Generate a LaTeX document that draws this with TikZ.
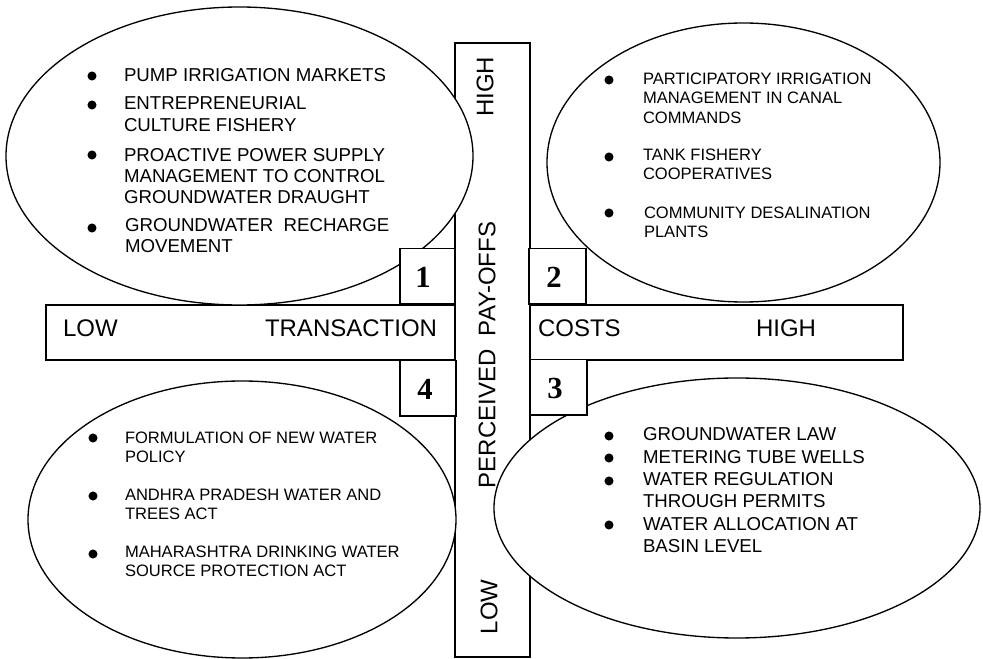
\documentclass[tikz,border=0pt]{standalone}
\usepackage{fontspec}
\setmainfont{Liberation Sans}
\newfontfamily\numfont{Liberation Serif}
\usetikzlibrary{shapes.geometric}
\begin{document}
\begin{tikzpicture}[x=0.75pt,y=-0.75pt,
  every node/.style={inner sep=0pt, outer sep=0pt},
  bar/.style={draw, fill=white, rectangle, line width=1pt},
  oval/.style={draw, fill=white, ellipse, line width=1pt},
  numbox/.style={draw, fill=white, rectangle, line width=1pt, minimum height=41.5pt},
  num/.style={font=\numfont\bfseries\fontsize{23}{23}\selectfont},
  axis/.style={font=\fontsize{18}{20}\selectfont},
  itemL/.style={font=\fontsize{14}{16}\selectfont, align=left, anchor=north west},
  itemS/.style={font=\fontsize{12.4}{14.5}\selectfont, align=left, anchor=north west},
  itemM/.style={font=\fontsize{14}{16.8}\selectfont, align=left, anchor=north west},
  dot/.style={fill=black, circle, minimum size=6.8pt}
]
\useasboundingbox (0,0) rectangle (983,659);

% bars
\node[bar, minimum width=642.75pt, minimum height=41.25pt] (hbar) at (474.5,332.5) {};
\node[bar, minimum width=56.25pt, minimum height=460.5pt] (vbar) at (492.5,350) {};

% ellipses
\node[oval, minimum width=350.25pt, minimum height=223.5pt] (eTL) at (239.5,156) {};
\node[oval, minimum width=294.75pt, minimum height=209.25pt] (eTR) at (743.5,162.5) {};
\node[oval, minimum width=321pt, minimum height=207.75pt] (eBL) at (242,519.5) {};
\node[oval, minimum width=364.5pt, minimum height=195pt] (eBR) at (737,508) {};

% numbered boxes
\node[numbox, minimum width=41.25pt] (box1) at (427.5,276.5) {};
\node[numbox, minimum width=42.75pt] (box2) at (557.5,276.5) {};
\node[numbox, minimum width=42pt] (box4) at (428,388.5) {};
\node[numbox, minimum width=42.75pt] (box3) at (558.5,387.5) {};
\node[num] (n1) at (423,277) {1};
\node[num] (n2) at (554,277) {2};
\node[num] (n4) at (425,389) {4};
\node[num] (n3) at (555,388) {3};

% horizontal axis labels
\node[axis, anchor=base west] (hlow) at (63,337) {LOW};
\node[axis, anchor=base west] (htrans) at (265,337) {TRANSACTION};
\node[axis, anchor=base west] (hcost) at (538,337) {COSTS};
\node[axis, anchor=base west] (hhigh) at (756,337) {HIGH};

% vertical axis labels
\node[axis, rotate=90] (vhigh) at (485,87) {HIGH};
\node[axis, rotate=90] (vpay) at (487,355) {PERCEIVED\ \ PAY-OFFS};
\node[axis, rotate=90] (vlow) at (489,607) {LOW};

% top-left quadrant
\node[dot] (dTL1) at (92,76) {};
\node[dot] (dTL2) at (92,105) {};
\node[dot] (dTL3) at (92,155) {};
\node[dot] (dTL4) at (92,228) {};
\node[itemL] (tTL1) at (124,68) {PUMP IRRIGATION MARKETS};
\node[itemL] (tTL2) at (124,97) {ENTREPRENEURIAL\\CULTURE FISHERY};
\node[itemL] (tTL3) at (124,148) {PROACTIVE POWER SUPPLY\\MANAGEMENT TO CONTROL\\GROUNDWATER DRAUGHT};
\node[itemL] (tTL4) at (125,218) {GROUNDWATER\ \ RECHARGE\\MOVEMENT};

% top-right quadrant
\node[dot] (dTR1) at (609,80) {};
\node[dot] (dTR2) at (609,157) {};
\node[dot] (dTR3) at (609,213) {};
\node[itemS] (tTR1) at (643,73) {PARTICIPATORY IRRIGATION\\MANAGEMENT IN CANAL\\COMMANDS};
\node[itemS] (tTR2) at (643,149) {TANK FISHERY\\COOPERATIVES};
\node[itemS] (tTR3) at (644,207) {COMMUNITY DESALINATION\\PLANTS};

% bottom-left quadrant
\node[dot] (dBL1) at (93,438) {};
\node[dot] (dBL2) at (93,496) {};
\node[dot] (dBL3) at (93,554) {};
\node[itemS] (tBL1) at (125,432) {FORMULATION OF NEW WATER\\POLICY};
\node[itemS] (tBL2) at (125,489) {ANDHRA PRADESH WATER AND\\TREES ACT};
\node[itemS] (tBL3) at (125,546) {MAHARASHTRA DRINKING WATER\\SOURCE PROTECTION ACT};

% bottom-right quadrant
\node[dot] (dBR1) at (609,436) {};
\node[dot] (dBR2) at (609,458) {};
\node[dot] (dBR3) at (609,481) {};
\node[dot] (dBR4) at (609,525) {};
\node[itemM] (tBR1) at (643,427) {GROUNDWATER LAW};
\node[itemM] (tBR2) at (643,450) {METERING TUBE WELLS};
\node[itemM] (tBR3) at (643,472) {WATER REGULATION\\THROUGH PERMITS};
\node[itemM] (tBR4) at (643,517) {WATER ALLOCATION AT\\BASIN LEVEL};
\end{tikzpicture}
\end{document}
